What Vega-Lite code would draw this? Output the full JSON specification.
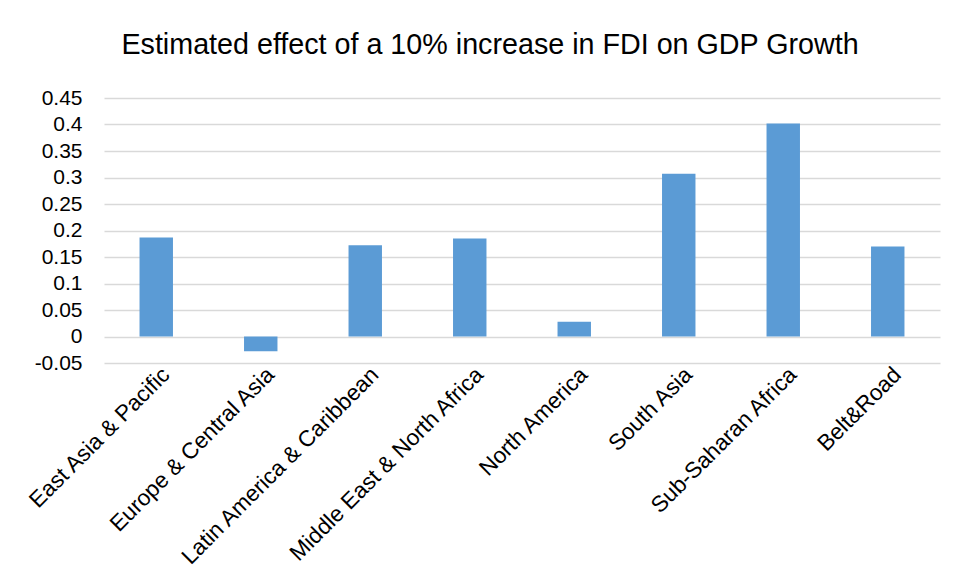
{
  "$schema": "https://vega.github.io/schema/vega-lite/v6.json",
  "autosize": {"type": "none"},
  "width": 836,
  "height": 265,
  "padding": {"left": 104, "top": 98, "right": 16, "bottom": 206},
  "background": "white",
  "title": {
    "text": "Estimated effect of a 10% increase in FDI on GDP Growth",
    "font": "Liberation Sans",
    "fontSize": 28.7,
    "fontWeight": "normal",
    "color": "#000000",
    "anchor": "middle",
    "frame": "group",
    "dx": -32,
    "offset": 27
  },
  "data": {
    "values": [
      {"region": "East Asia & Pacific", "effect": 0.187},
      {"region": "Europe & Central Asia", "effect": -0.028},
      {"region": "Latin America & Caribbean", "effect": 0.172},
      {"region": "Middle East & North Africa", "effect": 0.185},
      {"region": "North America", "effect": 0.028},
      {"region": "South Asia", "effect": 0.307},
      {"region": "Sub-Saharan Africa", "effect": 0.402},
      {"region": "Belt&Road", "effect": 0.17}
    ]
  },
  "mark": {"type": "bar", "color": "#5B9BD5"},
  "encoding": {
    "x": {
      "field": "region",
      "type": "nominal",
      "sort": null,
      "scale": {"paddingInner": 0.68, "paddingOuter": 0.34},
      "axis": {
        "title": null,
        "labelAngle": -45,
        "labelFont": "Liberation Sans",
        "labelFontSize": 22.5,
        "labelColor": "#000000",
        "labelPadding": 0,
        "labelOffset": 2,
        "ticks": false,
        "domain": false,
        "labelLimit": 400
      }
    },
    "y": {
      "field": "effect",
      "type": "quantitative",
      "scale": {"domain": [-0.05, 0.45], "nice": false, "zero": false},
      "axis": {
        "title": null,
        "values": [-0.05, 0, 0.05, 0.1, 0.15, 0.2, 0.25, 0.3, 0.35, 0.4, 0.45],
        "labelExpr": "replace(format(datum.value, '.2~f'), '−', '-')",
        "labelFont": "Liberation Sans",
        "labelFontSize": 21,
        "labelColor": "#000000",
        "labelPadding": 22,
        "ticks": false,
        "domain": false,
        "grid": true,
        "gridColor": "#D9D9D9",
        "gridWidth": 1.6
      }
    }
  },
  "config": {"view": {"stroke": null}}
}
